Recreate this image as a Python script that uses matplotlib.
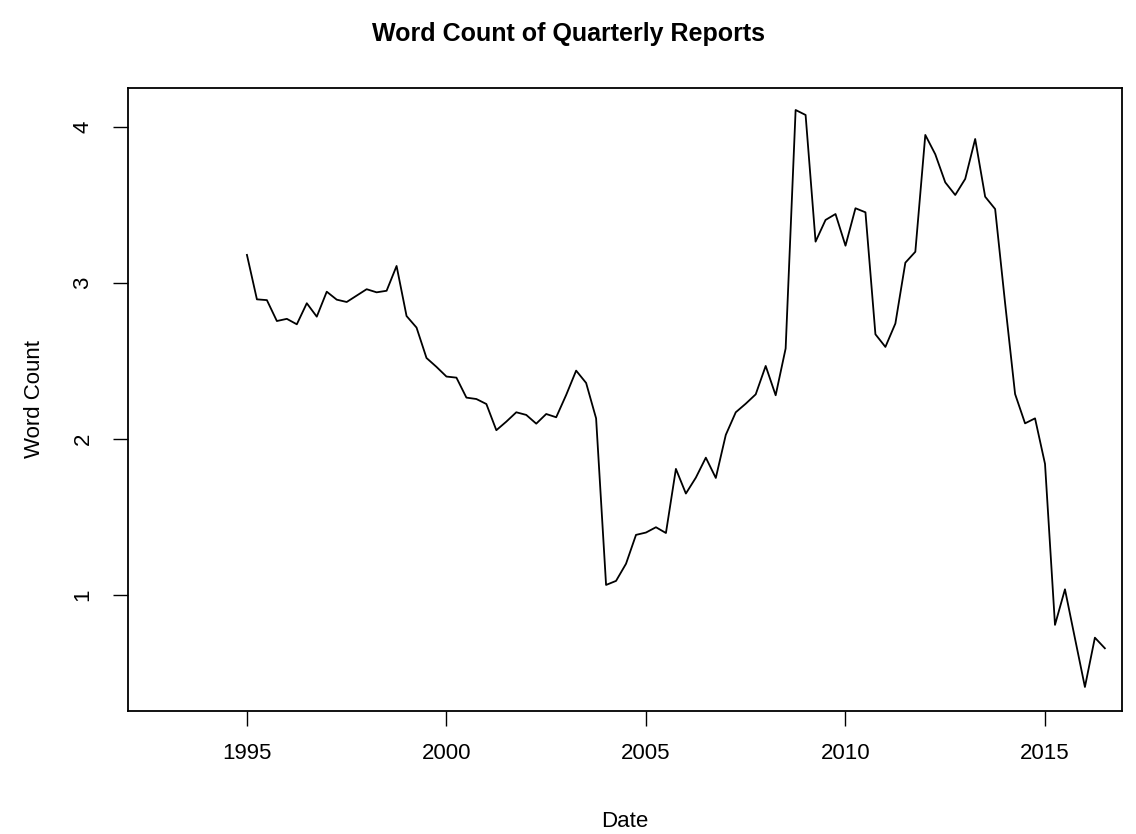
import numpy as np
import matplotlib.pyplot as plt

plt.rcParams['font.family'] = ['Liberation Sans', 'DejaVu Sans']

# quarterly series, 1995 Q1 .. 2016 Q3
start_year = 1995.0
word_count = [
    3.18, 2.895, 2.89, 2.756,   # 1995
    2.77, 2.735, 2.87, 2.784,   # 1996
    2.944, 2.893, 2.878, 2.919, # 1997
    2.96, 2.94, 2.95, 3.109,    # 1998
    2.788, 2.714, 2.519, 2.462, # 1999
    2.40, 2.393, 2.265, 2.256,  # 2000
    2.224, 2.056, 2.111, 2.171, # 2001
    2.154, 2.098, 2.16, 2.139,  # 2002
    2.282, 2.438, 2.359, 2.132, # 2003
    1.064, 1.09, 1.20, 1.385,   # 2004
    1.40, 1.434, 1.397, 1.808,  # 2005
    1.65, 1.752, 1.88, 1.75,    # 2006
    2.026, 2.171, 2.226, 2.286, # 2007
    2.468, 2.28, 2.58, 4.109,   # 2008
    4.077, 3.265, 3.404, 3.442, # 2009
    3.239, 3.479, 3.453, 2.671, # 2010
    2.59, 2.74, 3.13, 3.20,     # 2011
    3.949, 3.825, 3.645, 3.564, # 2012
    3.667, 3.923, 3.553, 3.474, # 2013
    2.87, 2.288, 2.10, 2.132,   # 2014
    1.84, 0.808, 1.036, 0.722,  # 2015
    0.41, 0.726, 0.658,         # 2016
]
x_ticks = [1995, 2000, 2005, 2010, 2015]
y_ticks = [1, 2, 3, 4]

dates = start_year + np.arange(len(word_count)) / 4.0

fig = plt.figure(figsize=(11.36, 8.34), dpi=100)
ax = fig.add_axes([0.1127, 0.1475, 0.8750, 0.7470])
ax.plot(dates, word_count, color='black', linewidth=1.3)

ax.set_xlim(1992.02, 2016.93)
ax.set_ylim(0.256, 4.25)
ax.set_xticks(x_ticks)
ax.set_yticks(y_ticks)
ax.tick_params(axis='both', direction='out', length=10.8, width=1, labelsize=16, pad=12)
ax.tick_params(axis='y', pad=14)
for lab in ax.get_yticklabels():
    lab.set_rotation(90)
    lab.set_va('center')
for sp in ax.spines.values():
    sp.set_linewidth(1.3)

ax.set_xlabel('Date', fontsize=16, labelpad=34)
ax.set_ylabel('Word Count', fontsize=16, labelpad=20)
fig.suptitle('Word Count of Quarterly Reports', fontsize=18, fontweight='bold', y=0.974)

fig.savefig('out.png', dpi=100)
